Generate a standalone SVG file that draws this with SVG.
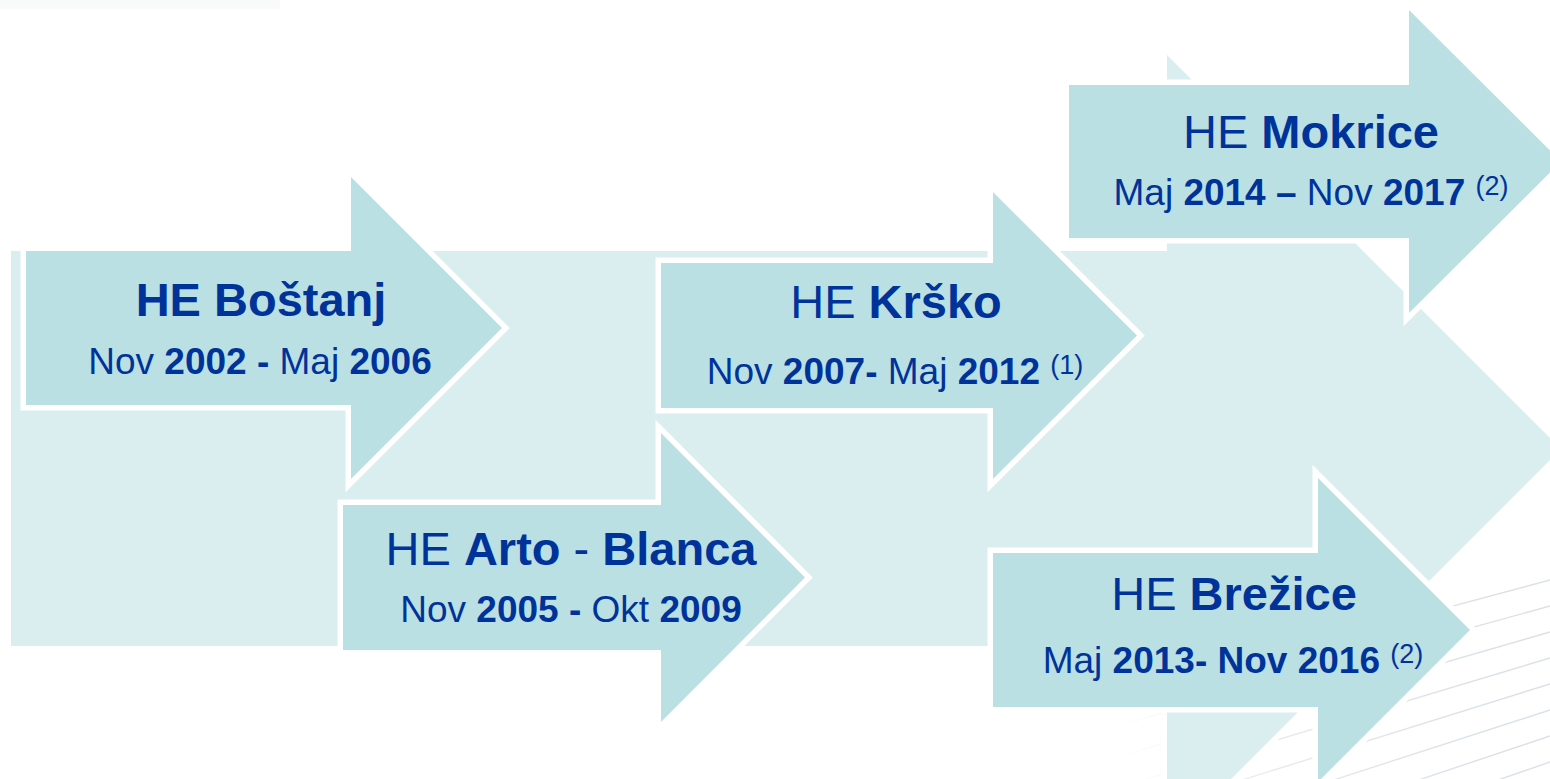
<svg xmlns="http://www.w3.org/2000/svg" width="1550" height="779" viewBox="0 0 1550 779">
  <defs>
    <linearGradient id="lineFade" gradientUnits="userSpaceOnUse" x1="1120" y1="0" x2="1480" y2="0">
      <stop offset="0" stop-color="#d6dee4" stop-opacity="0"/>
      <stop offset="0.4" stop-color="#d6dee4" stop-opacity="0.6"/>
      <stop offset="1" stop-color="#d6dee4" stop-opacity="0.9"/>
    </linearGradient>
  </defs>
  <style>
    .bg { fill: #DAEDEF; stroke: #ffffff; stroke-width: 11; paint-order: stroke; stroke-linejoin: miter; }
    .arrow { fill: #BBE0E3; stroke: #ffffff; stroke-width: 11; paint-order: stroke; stroke-linejoin: miter; }
    .deco { stroke: url(#lineFade); stroke-width: 1.4; fill: none; }
    text { font-family: "Liberation Sans", Arial, sans-serif; fill: #003399; text-anchor: middle; }
    .title { font-size: 47px; }
    .date { font-size: 37px; }
    .b { font-weight: bold; }
    .sup { font-size: 27px; }
  </style>

  <rect width="1550" height="779" fill="#ffffff"/>
  <!-- faint strip along the top-left edge -->
  <rect x="0" y="0" width="280" height="9" fill="#f2f7f4" opacity="0.5"/>

  <!-- faint slanted lines in the lower right corner -->
  <g id="decor-lines">
    <line class="deco" x1="1120" y1="695" x2="1550" y2="580"/>
    <line class="deco" x1="1120" y1="725" x2="1550" y2="606"/>
    <line class="deco" x1="1120" y1="756" x2="1550" y2="632"/>
    <line class="deco" x1="1120" y1="787" x2="1550" y2="658"/>
    <line class="deco" x1="1120" y1="818" x2="1550" y2="684"/>
    <line class="deco" x1="1120" y1="849" x2="1550" y2="710"/>
    <line class="deco" x1="1120" y1="880" x2="1550" y2="736"/>
    <line class="deco" x1="1120" y1="911" x2="1550" y2="762"/>
    <line class="deco" x1="1120" y1="942" x2="1550" y2="788"/>
  </g>

  <!-- large background arrow -->
  <g id="timeline-band">
    <polygon class="bg" points="11,251 1167,251 1167,55 1561,449 1167,843 1167,646 11,646"/>
  </g>

  <g id="node-bostanj">
    <polygon class="arrow" points="26,251 351,251 351,177 502,328 351,479 351,405 26,405"/>
    <text class="title b" x="261" y="316">HE Boštanj</text>
    <text class="date" x="260" y="374"><tspan>Nov </tspan><tspan class="b">2002 -</tspan><tspan> Maj </tspan><tspan class="b">2006</tspan></text>
  </g>

  <g id="node-arto-blanca">
    <polygon class="arrow" points="343,505 661,505 661,433 805,577.5 661,722 661,650 343,650"/>
    <text class="title" x="571" y="565"><tspan>HE </tspan><tspan class="b">Arto</tspan><tspan> - </tspan><tspan class="b">Blanca</tspan></text>
    <text class="date" x="571" y="622"><tspan>Nov </tspan><tspan class="b">2005 -</tspan><tspan> Okt </tspan><tspan class="b">2009</tspan></text>
  </g>

  <g id="node-krsko">
    <polygon class="arrow" points="661,263 993,263 993,192 1137,335.5 993,479 993,408 661,408"/>
    <text class="title" x="896" y="318"><tspan>HE </tspan><tspan class="b">Krško</tspan></text>
    <text class="date" x="895" y="384"><tspan>Nov </tspan><tspan class="b">2007-</tspan><tspan> Maj </tspan><tspan class="b">2012</tspan><tspan> </tspan><tspan class="sup" dy="-10">(1)</tspan></text>
  </g>

  <g id="node-mokrice">
    <polygon class="arrow" points="1069,85 1409,85 1409,10 1561,161.5 1409,313 1409,238 1069,238"/>
    <text class="title" x="1311" y="148"><tspan>HE </tspan><tspan class="b">Mokrice</tspan></text>
    <text class="date" x="1311" y="205"><tspan>Maj </tspan><tspan class="b">2014 –</tspan><tspan> Nov </tspan><tspan class="b">2017</tspan><tspan> </tspan><tspan class="sup" dy="-10">(2)</tspan></text>
  </g>

  <g id="node-brezice">
    <polygon class="arrow" points="993,553 1318,553 1318,478 1470,630 1318,782 1318,707 993,707"/>
    <text class="title" x="1234" y="610"><tspan>HE </tspan><tspan class="b">Brežice</tspan></text>
    <text class="date" x="1233" y="673"><tspan>Maj </tspan><tspan class="b">2013- Nov 2016</tspan><tspan> </tspan><tspan class="sup" dy="-10">(2)</tspan></text>
  </g>

  <g id="connectors"/>
</svg>
